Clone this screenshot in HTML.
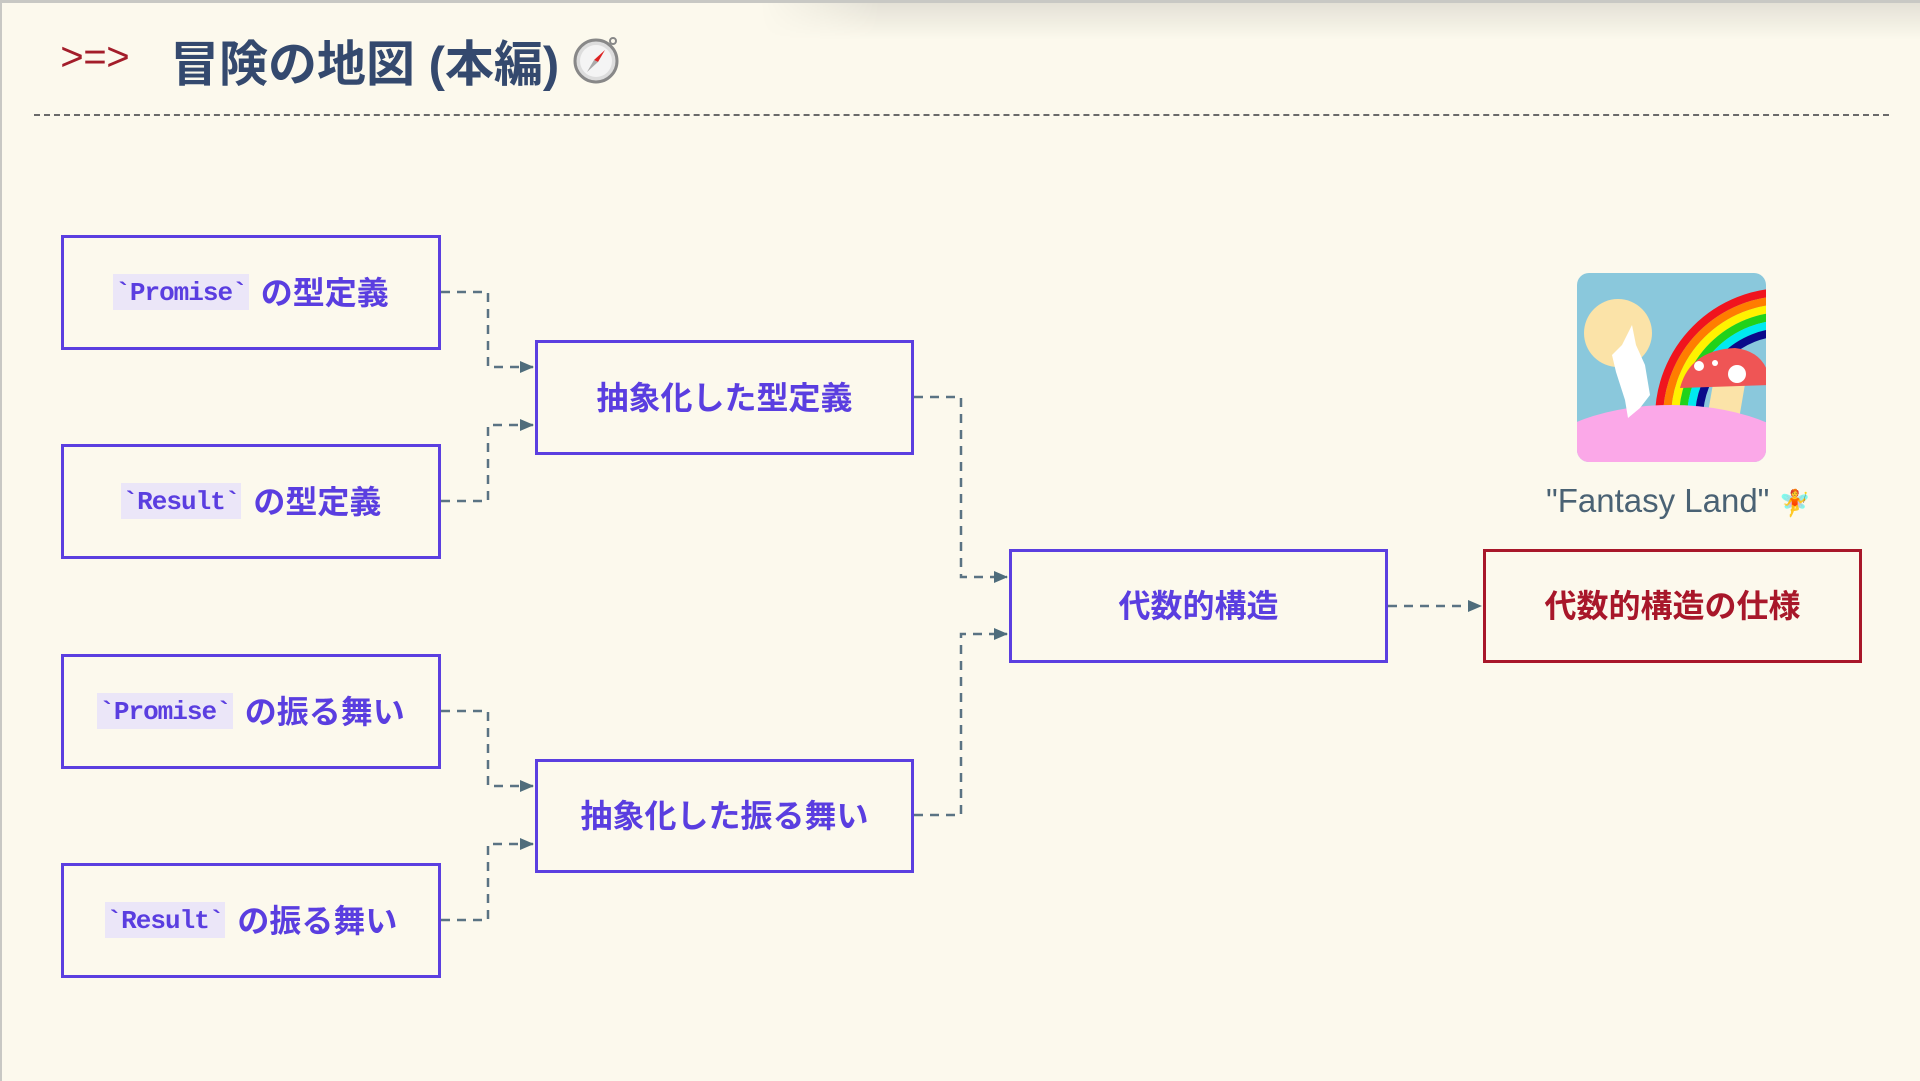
<!DOCTYPE html>
<html><head><meta charset="utf-8"><style>
html,body{margin:0;padding:0}
body{width:1920px;height:1081px;background:#fcf9ed;position:relative;overflow:hidden;font-family:"Liberation Sans","Noto Sans CJK JP",sans-serif}
.topbar{position:absolute;left:0;top:0;width:1920px;height:3px;background:#c8c8c4}
.leftbar{position:absolute;left:0;top:0;width:2px;height:1081px;background:#c8c8c4}
.shadow{position:absolute;left:760px;top:0;width:1160px;height:40px;background:linear-gradient(to bottom,rgba(0,0,0,0.10),rgba(0,0,0,0));-webkit-mask-image:linear-gradient(to right,transparent,#000 120px)}
.arrow{position:absolute;left:60px;top:38px;font-size:40px;color:#a31d2a;font-family:"Liberation Mono",monospace;letter-spacing:-1px}
.title{position:absolute;left:170px;top:25px;font-size:49px;font-weight:bold;color:#34496e}
.hr{position:absolute;left:34px;top:114px;width:1855px;border-top:2px dashed #6a6a6a}
.box{position:absolute;box-sizing:border-box;border:3px solid #5b3fe0;display:flex;align-items:center;justify-content:center;color:#5a3ee0;font-weight:bold;font-size:32px;white-space:nowrap;padding-bottom:4px}
.red{border-color:#a8172a;color:#a8172a}
code{font-family:"Liberation Mono",monospace;background:#ebe6f8;font-weight:bold;font-size:26px;padding:4px 2px 2px;margin-right:12px;letter-spacing:-1px;position:relative;top:1px}
.fl{position:absolute;left:1546px;top:482px;font-size:33px;color:#4a6274}
</style></head><body>
<div class="shadow"></div><div class="topbar"></div><div class="leftbar"></div>
<div class="arrow">&gt;=&gt;</div>
<div class="title">冒険の地図 (本編)</div>
<svg style="position:absolute;left:570px;top:33px" width="52" height="52" viewBox="0 0 52 52">
<circle cx="26" cy="28" r="21" fill="#ddd" stroke="#888" stroke-width="3"/>
<circle cx="26" cy="28" r="16" fill="#f4f4f4"/>
<polygon points="35,17 28,29 24,27" fill="#d22"/><polygon points="17,39 24,27 28,29" fill="#aaa"/>
<circle cx="43" cy="8" r="3" fill="none" stroke="#888" stroke-width="2"/>
</svg>
<div class="hr"></div>

<div class="box" style="left:61px;top:235px;width:380px;height:115px"><code>`Promise`</code>の型定義</div>
<div class="box" style="left:61px;top:444px;width:380px;height:115px"><code>`Result`</code>の型定義</div>
<div class="box" style="left:61px;top:654px;width:380px;height:115px"><code>`Promise`</code>の振る舞い</div>
<div class="box" style="left:61px;top:863px;width:380px;height:115px"><code>`Result`</code>の振る舞い</div>
<div class="box" style="left:535px;top:340px;width:379px;height:115px">抽象化した型定義</div>
<div class="box" style="left:535px;top:759px;width:379px;height:114px">抽象化した振る舞い</div>
<div class="box" style="left:1009px;top:549px;width:379px;height:114px">代数的構造</div>
<div class="box red" style="left:1483px;top:549px;width:379px;height:114px">代数的構造の仕様</div>

<svg style="position:absolute;left:0;top:0" width="1920" height="1081">
<defs><marker id="a" markerWidth="14" markerHeight="12" refX="13" refY="6" orient="auto" markerUnits="userSpaceOnUse"><path d="M0,0 L14,6 L0,12 z" fill="#4f6d7c"/></marker></defs>
<g fill="none" stroke="#5a7383" stroke-width="2.5" stroke-dasharray="9,7">
<path d="M441,292 H488 V367 H533" marker-end="url(#a)"/>
<path d="M441,501 H488 V425 H533" marker-end="url(#a)"/>
<path d="M441,711 H488 V786 H533" marker-end="url(#a)"/>
<path d="M441,920 H488 V844 H533" marker-end="url(#a)"/>
<path d="M914,397 H961 V577 H1007" marker-end="url(#a)"/>
<path d="M914,815 H961 V634 H1007" marker-end="url(#a)"/>
<path d="M1388,606 H1481" marker-end="url(#a)"/>
</g>
<defs><clipPath id="c"><rect x="1577" y="273" width="189" height="189" rx="12"/></clipPath></defs>
<g clip-path="url(#c)">
<rect x="1577" y="273" width="189" height="189" fill="#8ac8dc"/>
<circle cx="1618" cy="333" r="34" fill="#fbe3a8"/>
<g fill="none" stroke-width="8">
<circle cx="1785" cy="418" r="126" stroke="#f0141e"/>
<circle cx="1785" cy="418" r="118" stroke="#ff7d00"/>
<circle cx="1785" cy="418" r="110" stroke="#fff200"/>
<circle cx="1785" cy="418" r="102" stroke="#21d21a"/>
<circle cx="1785" cy="418" r="94" stroke="#00eaf0"/>
<circle cx="1785" cy="418" r="86" stroke="#0a0a8a"/>
</g>
<polygon points="1713,384 1745,384 1738,425 1707,418" fill="#fbe3a8"/>
<path d="M1680,388 Q1690,350 1735,348 Q1768,352 1770,385 Z" fill="#ef5555"/>
<circle cx="1699" cy="366" r="5" fill="#fff"/><circle cx="1737" cy="374" r="9" fill="#fff"/><circle cx="1715" cy="363" r="3" fill="#fff"/>
<ellipse cx="1671" cy="470" rx="140" ry="65" fill="#fba8e8"/>
<path d="M1622,345 L1632,325 L1636,345 L1645,365 L1650,395 L1640,408 L1628,418 L1625,400 L1616,372 L1612,355 Z" fill="#fff"/>
</g>
</svg>
<div class="fl">"Fantasy Land" <span style="font-size:26px">🧚</span></div>
</body></html>
